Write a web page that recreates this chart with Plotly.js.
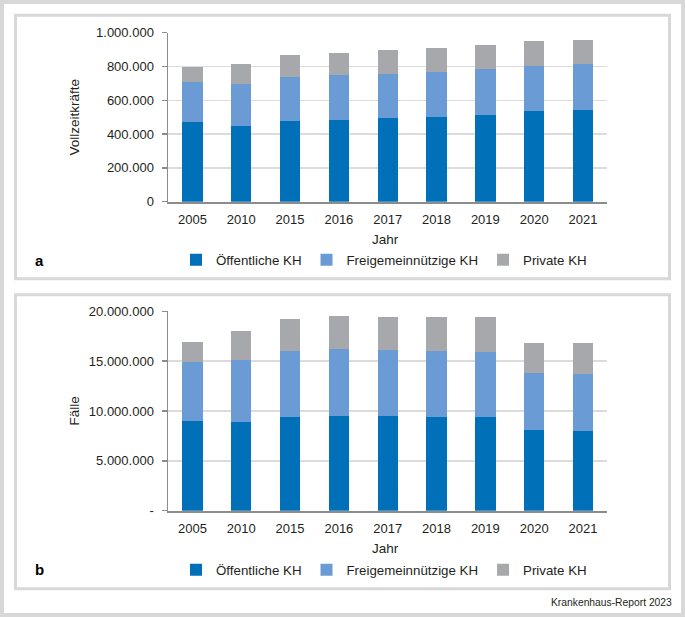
<!DOCTYPE html>
<html>
<head>
<meta charset="utf-8">
<script src="https://cdn.plot.ly/plotly-3.0.1.min.js"></script>
<style>
  html, body { margin: 0; padding: 0; background: #ffffff; }
  #chart { width: 685px; height: 617px; }
</style>
</head>
<body>
<div id="chart"></div>
<script>
// ---- Data ----
const years = ['2005', '2010', '2015', '2016', '2017', '2018', '2019', '2020', '2021'];
const seriesNames = ['Öffentliche KH', 'Freigemeinnützige KH', 'Private KH'];

// Panel a: Vollzeitkräfte
const staffPublic    = [470000, 450000, 478000, 483000, 493000, 503000, 515000, 535000, 541000];
const staffNonprofit = [240000, 246000, 260000, 265000, 264000, 266000, 268000, 270000, 274000];
const staffPrivate   = [85000, 121000, 130000, 132000, 139000, 140000, 146000, 148000, 144000];

// Panel b: Fälle
const casesPublic    = [9030000, 8930000, 9430000, 9500000, 9500000, 9430000, 9370000, 8090000, 8020000];
const casesNonprofit = [5880000, 6180000, 6590000, 6690000, 6620000, 6590000, 6580000, 5690000, 5720000];
const casesPrivate   = [1980000, 2940000, 3240000, 3370000, 3340000, 3410000, 3510000, 3040000, 3050000];

// Tick labels
const staffTickVals = [0, 200000, 400000, 600000, 800000, 1000000];
const staffTickText = ['0', '200.000', '400.000', '600.000', '800.000', '1.000.000'];
const casesTickVals = [0, 5000000, 10000000, 15000000, 20000000];
const casesTickText = ['-', '5.000.000', '10.000.000', '15.000.000', '20.000.000'];

// ---- Styling ----
const W = 685, H = 617;
const px = v => v / W;
const py = v => 1 - v / H;
const colors = ['#0070b8', '#6a9bd4', '#a7a8ab'];
const FONT = "'Liberation Sans', Arial, sans-serif";
const textColor = '#231f20';
const axisColor = '#8c8c8c';
const frameColor = '#d8d8d8';

function mkTrace(y, i, xa, ya, leg) {
  return {
    type: 'bar', x: years, y: y, name: seriesNames[i],
    xaxis: xa, yaxis: ya, legend: leg,
    marker: { color: colors[i], line: { width: 0 } },
    hoverinfo: 'x+y+name'
  };
}

const data = [
  mkTrace(staffPublic, 0, 'x', 'y', 'legend'),
  mkTrace(staffNonprofit, 1, 'x', 'y', 'legend'),
  mkTrace(staffPrivate, 2, 'x', 'y', 'legend'),
  mkTrace(casesPublic, 0, 'x2', 'y2', 'legend2'),
  mkTrace(casesNonprofit, 1, 'x2', 'y2', 'legend2'),
  mkTrace(casesPrivate, 2, 'x2', 'y2', 'legend2')
];

const xDomain = [px(168), px(607.4)];
function xAxis(anchor) {
  return {
    domain: xDomain, anchor: anchor, type: 'category',
    showline: true, linecolor: axisColor, linewidth: 2,
    ticks: '', showgrid: false, zeroline: false,
    ticklabelstandoff: 5,
    tickfont: { family: FONT, size: 13, color: textColor },
    fixedrange: true
  };
}
function yAxis(anchor, dom, range, vals, text) {
  return {
    domain: dom, anchor: anchor, range: range,
    tickmode: 'array', tickvals: vals, ticktext: text,
    showgrid: true, gridcolor: '#dcdcdc', gridwidth: 1.5,
    showline: true, linecolor: axisColor, linewidth: 1.5,
    ticks: 'outside', ticklen: 5, tickwidth: 1.5, tickcolor: axisColor,
    ticklabelstandoff: 5,
    zeroline: false,
    tickfont: { family: FONT, size: 13, color: textColor },
    fixedrange: true
  };
}

function legendCfg(yc) {
  return {
    orientation: 'h', x: px(176), xanchor: 'left', y: py(yc), yanchor: 'middle',
    bgcolor: 'rgba(0,0,0,0)', borderwidth: 0,
    font: { family: FONT, size: 13.3, color: textColor },
    traceorder: 'normal', itemclick: false, itemdoubleclick: false
  };
}

function ann(text, x, y, opts) {
  return Object.assign({
    text: text, x: x, y: y, xref: 'paper', yref: 'paper',
    showarrow: false, xanchor: 'center', yanchor: 'middle',
    font: { family: FONT, size: 13.5, color: textColor }
  }, opts || {});
}

const layout = {
  width: W, height: H,
  margin: { l: 0, r: 0, t: 0, b: 0, pad: 0 },
  paper_bgcolor: '#ffffff', plot_bgcolor: 'rgba(0,0,0,0)',
  barmode: 'stack', bargap: 0.584,
  font: { family: FONT, color: textColor },
  xaxis: xAxis('y'),
  yaxis: yAxis('x', [py(201.7), py(32.7)], [0, 1000000], staffTickVals, staffTickText),
  xaxis2: xAxis('y2'),
  yaxis2: yAxis('x2', [py(510.7), py(311.3)], [0, 20000000], casesTickVals, casesTickText),
  legend: legendCfg(260),
  legend2: legendCfg(570),
  annotations: [
    ann('Vollzeitkräfte', px(73.5), py(117), { textangle: -90 }),
    ann('Jahr', px(385.5), py(239.5)),
    ann('<b>a</b>', px(39), py(260), { font: { family: FONT, size: 15, color: '#000' } }),
    ann('Fälle', px(73.5), py(411), { textangle: -90 }),
    ann('Jahr', px(385.5), py(548.5)),
    ann('<b>b</b>', px(39), py(569.5), { font: { family: FONT, size: 15, color: '#000' } }),
    ann('Krankenhaus-Report 2023', px(674), py(602.5), { xanchor: 'right', font: { family: FONT, size: 10.3, color: textColor } })
  ],
  shapes: [
    { type: 'rect', xref: 'paper', yref: 'paper', x0: 0, x1: 1, y0: 0, y1: 1,
      line: { color: frameColor, width: 8 }, fillcolor: 'rgba(0,0,0,0)', layer: 'below' },
    { type: 'rect', xref: 'paper', yref: 'paper', x0: px(15.5), x1: px(669.5), y0: py(278.7), y1: py(15.3),
      line: { color: frameColor, width: 3 }, fillcolor: 'rgba(0,0,0,0)', layer: 'below' },
    { type: 'rect', xref: 'paper', yref: 'paper', x0: px(15.5), x1: px(669.5), y0: py(588.8), y1: py(294.7),
      line: { color: frameColor, width: 3 }, fillcolor: 'rgba(0,0,0,0)', layer: 'below' }
  ]
};

Plotly.newPlot('chart', data, layout, { staticPlot: true, displayModeBar: false });
</script>
</body>
</html>
